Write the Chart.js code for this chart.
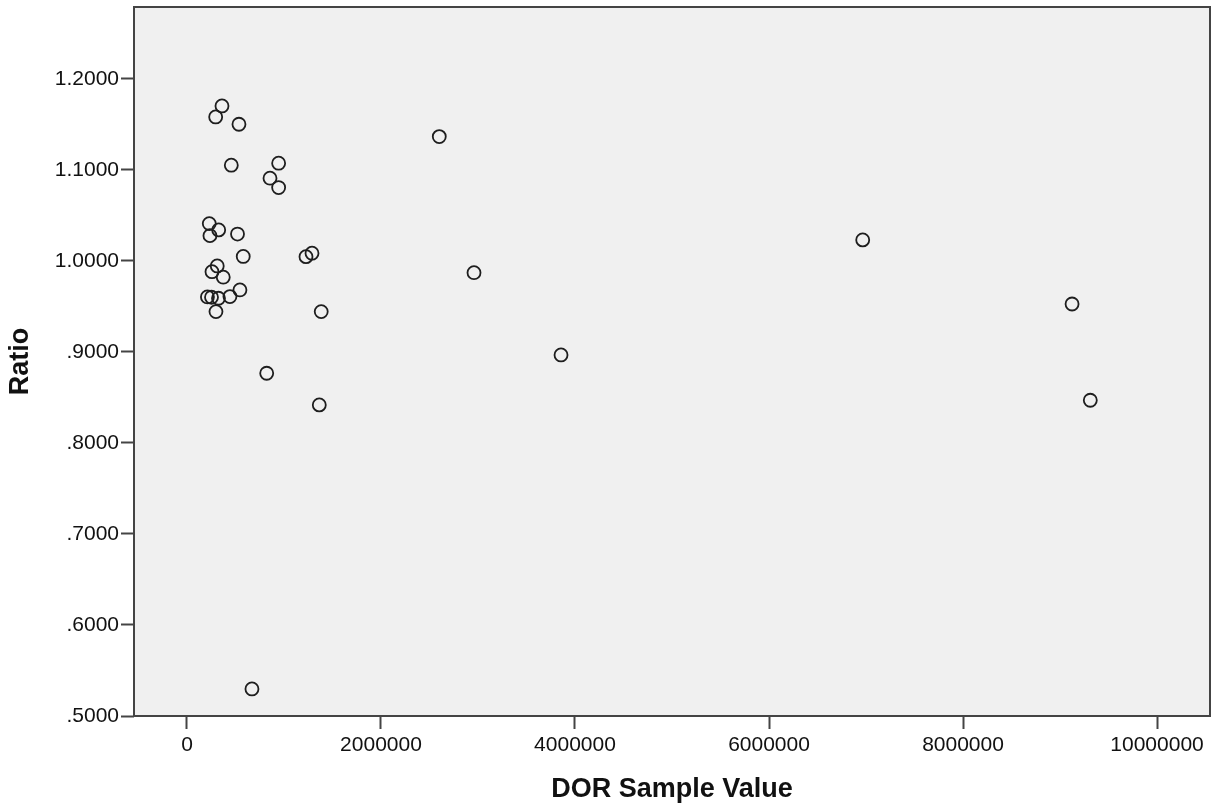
<!DOCTYPE html>
<html>
<head>
<meta charset="utf-8">
<title>Ratio by DOR Sample Value</title>
<script src="https://cdn.jsdelivr.net/npm/chart.js@4.4.1/dist/chart.umd.min.js"></script>
<style>
  html, body { margin: 0; padding: 0; background: #ffffff; }
  #wrap { width: 1214px; height: 810px; }
</style>
</head>
<body>
<div id="wrap"><canvas id="ratioChart" width="1214" height="810"></canvas></div>
<script>
// DOR sample value (x) and ratio (y), one entry per case
const dorValues = [
  361000, 296000, 536000, 457000, 945000, 856000, 945000,
  230000, 327000, 237000, 521000, 580000, 1227000, 1289000,
  312000, 258000, 374000, 546000, 211000, 253000, 325000, 443000,
  299000, 1384000, 822000, 1364000, 2601000, 2959000, 6966000,
  9124000, 9312000, 3856000, 670000
];
const ratioValues = [
  1.1703, 1.1582, 1.1502, 1.1052, 1.1074, 1.0909, 1.0806,
  1.0410, 1.0341, 1.0278, 1.0295, 1.0049, 1.0047, 1.0085,
  0.9945, 0.9882, 0.9821, 0.9681, 0.9604, 0.9601, 0.9590, 0.9608,
  0.9443, 0.9443, 0.8766, 0.8418, 1.1366, 0.9871, 1.0231,
  0.9527, 0.8469, 0.8967, 0.5297
];

// axis ticks
const xTickValues = [0, 2000000, 4000000, 6000000, 8000000, 10000000];
const yTickValues = [0.5, 0.6, 0.7, 0.8, 0.9, 1.0, 1.1, 1.2];

const frameColor = "#444444";
const tickFont = { family: "'Liberation Sans', Arial, sans-serif", size: 21 };
const titleFont = { family: "'Liberation Sans', Arial, sans-serif", size: 27, weight: "bold" };

// grey plot background plus the box round it
const plotFrame = {
  id: "plotFrame",
  beforeDraw(chart) {
    const { ctx, chartArea: a } = chart;
    ctx.save();
    ctx.fillStyle = "#f0f0f0";
    ctx.fillRect(a.left, a.top, a.right - a.left, a.bottom - a.top);
    ctx.restore();
  },
  afterDraw(chart) {
    const { ctx, chartArea: a } = chart;
    ctx.save();
    ctx.strokeStyle = frameColor;
    ctx.lineWidth = 2;
    ctx.strokeRect(a.left, a.top, a.right - a.left, a.bottom - a.top);
    ctx.restore();
  }
};

const points = dorValues.map((v, i) => ({ x: v, y: ratioValues[i] }));

new Chart(document.getElementById("ratioChart"), {
  type: "scatter",
  data: {
    datasets: [{
      label: "Ratio",
      data: points,
      pointRadius: 6.5,
      pointHoverRadius: 6.5,
      pointBorderWidth: 1.8,
      borderColor: "#1e1e1e",
      backgroundColor: "rgba(0,0,0,0)"
    }]
  },
  options: {
    responsive: false,
    animation: false,
    devicePixelRatio: 1,
    layout: { autoPadding: false, padding: { top: 7, right: 4, left: 0, bottom: 0 } },
    plugins: {
      legend: { display: false },
      tooltip: { enabled: false }
    },
    scales: {
      x: {
        type: "linear",
        min: -546000,
        max: 10546000,
        afterFit(scale) {
          scale.height = 94;
          scale.paddingLeft = 0;
          scale.paddingRight = 0;
        },
        afterBuildTicks(scale) { scale.ticks = xTickValues.map(v => ({ value: v })); },
        border: { display: false },
        grid: {
          drawOnChartArea: false,
          tickLength: 13,
          tickWidth: 2,
          tickColor: frameColor
        },
        ticks: {
          padding: 4,
          color: "#111111",
          font: tickFont,
          maxRotation: 0,
          callback: v => String(v)
        },
        title: {
          display: true,
          text: "DOR Sample Value",
          color: "#111111",
          font: titleFont,
          padding: { top: 0, bottom: 4 }
        }
      },
      y: {
        type: "linear",
        min: 0.5,
        max: 1.279,
        afterFit(scale) {
          scale.width = 134;
          scale.paddingTop = 0;
          scale.paddingBottom = 0;
        },
        afterBuildTicks(scale) { scale.ticks = yTickValues.map(v => ({ value: v })); },
        border: { display: false },
        grid: {
          drawOnChartArea: false,
          tickLength: 13,
          tickWidth: 2,
          tickColor: frameColor
        },
        ticks: {
          padding: 2,
          color: "#111111",
          font: tickFont,
          callback: v => Number(v).toFixed(4).replace(/^0/, "")
        },
        title: {
          display: true,
          text: "Ratio",
          color: "#111111",
          font: titleFont,
          padding: { top: 4, bottom: 0 }
        }
      }
    }
  },
  plugins: [plotFrame]
});
</script>
</body>
</html>
